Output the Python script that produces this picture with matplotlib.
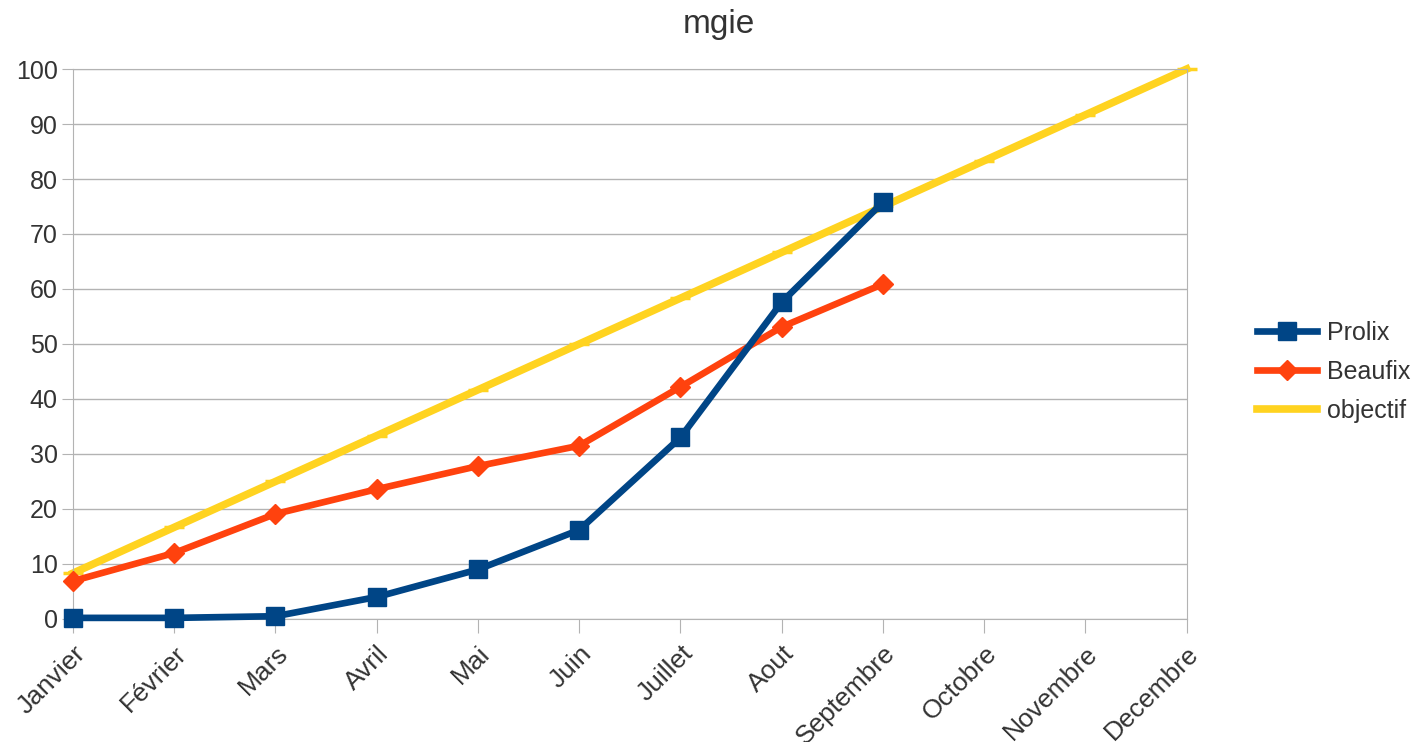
import matplotlib.pyplot as plt
import numpy as np

plt.rcParams['font.family'] = ['Liberation Sans', 'DejaVu Sans']

mois = ['Janvier', 'Février', 'Mars', 'Avril', 'Mai', 'Juin', 'Juillet',
        'Aout', 'Septembre', 'Octobre', 'Novembre', 'Decembre']
prolix = [0.2, 0.2, 0.5, 4.0, 9.0, 16.2, 33.0, 57.6, 75.8]
beaufix = [6.9, 12.0, 19.1, 23.6, 27.8, 31.5, 42.2, 53.1, 60.9]
objectif = [8.33, 16.67, 25.0, 33.33, 41.67, 50.0, 58.33, 66.67, 75.0, 83.33, 91.67, 100.0]

fig = plt.figure(figsize=(14.17, 7.42), dpi=100)
ax = fig.add_axes([0.0515, 0.1658, 0.786, 0.7412])

x = np.arange(len(mois))
ax.plot(x[:len(prolix)], prolix, color='#004586', lw=4.8, marker='s', ms=13,
        label='Prolix', zorder=4, clip_on=False)
ax.plot(x[:len(beaufix)], beaufix, color='#ff420e', lw=4.8, marker='D', ms=10,
        label='Beaufix', zorder=3, clip_on=False)
ax.plot(x, objectif, color='#ffd320', lw=5.5, marker='_', ms=14, mew=2.5,
        label='objectif', zorder=2, clip_on=False)

ax.set_xlim(0, 11)
ax.set_ylim(0, 100)
ax.set_yticks(range(0, 101, 10))
ax.set_xticks(x)
ax.set_xticklabels(mois, rotation=45, ha='right', rotation_mode='anchor')
ax.grid(axis='y', color='#b3b3b3', lw=1)
ax.set_axisbelow(True)
for s in ax.spines.values():
    s.set_color('#b3b3b3')
ax.tick_params(axis='both', colors='#b3b3b3', labelcolor='#333333')
ax.tick_params(axis='y', length=8, direction='out', pad=3, labelsize=18)
ax.tick_params(axis='x', length=10, direction='out', pad=6, labelsize=19)

fig.text(719 / 1417, 1 - 25 / 742, 'mgie', fontsize=24, color='#333333',
         ha='center', va='center')

leg = fig.legend(loc='center left', bbox_to_anchor=(1257 / 1417, 1 - 372 / 742),
                 frameon=False, fontsize=18, handlelength=2.4, handletextpad=0.4,
                 labelspacing=0.6, borderpad=0, borderaxespad=0)
for t in leg.get_texts():
    t.set_color('#333333')

fig.savefig('out.png', dpi=100)
